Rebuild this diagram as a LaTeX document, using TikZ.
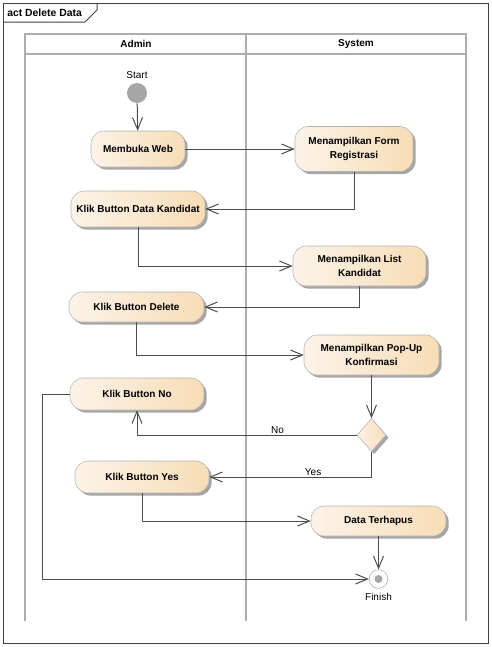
\documentclass[tikz,border=0pt]{standalone}
\usepackage{fontspec}
\setmainfont{Liberation Sans}
\usetikzlibrary{arrows.meta,shapes.geometric,shadows}
\definecolor{actleft}{HTML}{FCF3E8}
\definecolor{actright}{HTML}{F7DDB7}
\begin{document}
\begin{tikzpicture}[
        x=0.75pt, y=-0.75pt,
        >={Straight Barb[length=9pt,width=7.5pt]},
        note/.style = {font=\fontsize{7.5}{9}\selectfont, inner sep=1pt},
        basic/.style = {font=\fontsize{7.5}{10}\selectfont\bfseries, align=center},
        action/.style = {basic, draw=black!30, rounded corners=10pt,
            left color=actleft, right color=actright,
            drop shadow={shadow xshift=2pt, shadow yshift=-2pt, fill=black!35, opacity=1},
            minimum width=100.5pt, minimum height=24pt, inner sep=2pt},
        decision/.style = {diamond, draw=black!30, left color=actleft, right color=actright,
            drop shadow={shadow xshift=2pt, shadow yshift=-2pt, fill=black!35, opacity=1},
            minimum width=21.75pt, minimum height=24.75pt, inner sep=0pt},
        initial/.style = {circle, fill=black!35, minimum size=15pt, inner sep=0pt},
        final/.style = {circle, draw=black!35, fill=white, minimum size=14pt, inner sep=0pt,
            path picture={\fill[black!35] (path picture bounding box.center) circle (3pt);}},
        flow/.style = {->, draw=black!70, line width=0.75pt},
        lane/.style = {draw=black!32, line width=1.5pt},
        frame/.style = {draw=black!75, line width=0.75pt}]
    \useasboundingbox (0,0) rectangle (492,647);
    \draw[frame] (3,3) rectangle (488,643);
    \draw[frame] (3,22) -- (85,22) -- (97,10) -- (97,3);
    \node[basic, font=\fontsize{7.8}{10}\selectfont\bfseries, anchor=west, inner sep=0pt] (title) at (7,13) {act Delete Data};
    \draw[lane] (25,621) -- (25,34) -- (466,34) -- (466,621);
    \draw[lane] (246,34) -- (246,621);
    \draw[lane] (25,54) -- (466,54);
    \node[basic] (admin) at (136,44) {Admin};
    \node[basic] (system) at (356,44) {System};

    \node[initial, label={[note, label distance=2pt]above:Start}] (start) at (137,93) {};
    \node[action, minimum width=70.5pt, minimum height=27pt] (web) at (138,149) {Membuka Web};
    \node[action, minimum width=88.5pt, minimum height=33.75pt] (form) at (354,149) {Menampilkan Form\\Registrasi};
    \node[action, minimum height=27pt] (kandidat) at (138,209) {Klik Button Data Kandidat};
    \node[action, minimum width=99.75pt, minimum height=30pt] (list) at (359.5,266) {Menampilkan List\\Kandidat};
    \node[action, minimum width=101.25pt, minimum height=22.5pt] (delete) at (136.5,307) {Klik Button Delete};
    \node[action, minimum width=101.25pt, minimum height=30pt] (popup) at (371.5,355) {Menampilkan Pop-Up\\Konfirmasi};
    \node[action] (no) at (137,394) {Klik Button No};
    \node[decision] (dec) at (371.5,435) {};
    \node[action] (yes) at (142,477) {Klik Button Yes};
    \node[action, minimum width=101.25pt, minimum height=22.5pt] (hapus) at (378.5,521) {Data Terhapus};
    \node[final, label={[note, label distance=2.5pt]below:Finish}] (finish) at (378.5,579) {};
    \coordinate (back) at (42,394);

    \draw[flow] (start) -- (web);
    \draw[flow] (web) -- (form);
    \draw[flow] (form.south) |- (kandidat.east);
    \draw[flow] (kandidat.south) |- (list.west);
    \draw[flow] (list.south) |- (delete.east);
    \draw[flow] (delete.south) |- (popup.west);
    \draw[flow] (popup.south) -- (dec.north);
    \draw[flow] (dec.west) -| node[note, pos=0.18, above] {No} (no.south);
    \draw[flow] (dec.south) |- node[note, pos=0.68, above] {Yes} (yes.east);
    \draw[flow] (yes.south) |- (hapus.west);
    \draw[flow] (hapus.south) -- (finish.north);
    \draw[flow] (no.west) -- (back) |- (finish.west);
\end{tikzpicture}
\end{document}
